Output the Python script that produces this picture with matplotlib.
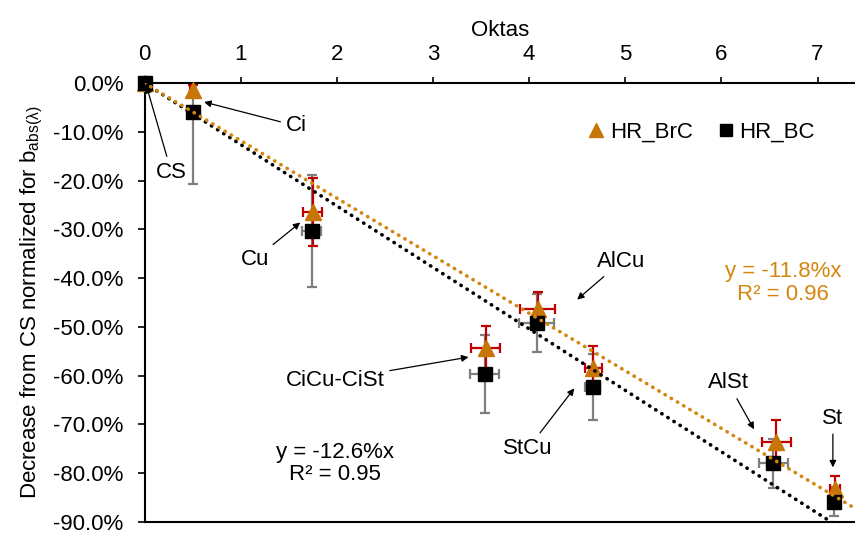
import matplotlib
matplotlib.use("Agg")
import matplotlib.pyplot as plt
from matplotlib.lines import Line2D
from matplotlib.ticker import FuncFormatter
import numpy as np

plt.rcParams['font.family'] = ['Liberation Sans', 'DejaVu Sans']

# ---- data ----
labels = ["CS", "Ci", "Cu", "CiCu-CiSt", "AlCu", "StCu", "AlSt", "St"]

x_brc = [0.00, 0.50, 1.75, 3.55, 4.09, 4.67, 6.57, 7.18]
y_brc = [0.0, -1.4, -26.4, -54.4, -46.3, -58.5, -73.5, -83.2]
yerr_brc = [0.0, 1.0, 7.0, 4.5, 3.5, 4.5, 4.4, 2.6]
xerr_brc = [0.0, 0.03, 0.10, 0.15, 0.18, 0.09, 0.15, 0.05]

x_bc = [0.00, 0.50, 1.74, 3.54, 4.08, 4.66, 6.54, 7.17]
y_bc = [0.0, -6.0, -30.4, -59.6, -49.2, -62.3, -78.0, -85.8]
yerr_bc = [0.0, 14.8, 11.5, 8.0, 6.0, 6.8, 5.0, 3.0]
xerr_bc = [0.0, 0.02, 0.10, 0.15, 0.18, 0.08, 0.15, 0.05]

slope_brc = -11.8
slope_bc = -12.6
r2_brc = 0.96
r2_bc = 0.95

x_ticks = [0, 1, 2, 3, 4, 5, 6, 7]
y_ticks = [0, -10, -20, -30, -40, -50, -60, -70, -80, -90]

# annotation positions (text, tip)
ann_text = [(0.28, -18.3), (1.58, -8.8), (1.145, -36.2), (1.98, -60.9),
            (4.96, -36.6), (3.99, -74.9), (6.07, -61.5), (7.16, -68.7)]
ann_tip = [(0.02, -0.6), (0.62, -3.9), (1.62, -28.6), (3.37, -56.2),
           (4.50, -44.4), (4.47, -62.6), (6.34, -71.0), (7.16, -78.8)]

ORANGE = '#C87508'
RED = '#C00000'
GRAY = '#7F7F7F'
FS = 16

fig = plt.figure(figsize=(8.55, 5.37), dpi=100)
ax = fig.add_axes([144.5/855, 1-522/537, 710.5/855, (522-83)/537])

xmax = 7.39
ax.set_xlim(0, xmax)
ax.set_ylim(-90, 0)

# error bars
eb1 = ax.errorbar(x_bc, y_bc, yerr=yerr_bc, xerr=xerr_bc, fmt='none', ecolor=GRAY,
                  elinewidth=1.6, capsize=3.5, capthick=1.6, zorder=2)
eb2 = ax.errorbar(x_brc, y_brc, yerr=yerr_brc, xerr=xerr_brc, fmt='none', ecolor=RED,
                  elinewidth=1.6, capsize=3.5, capthick=1.6, zorder=2)

ax.plot(x_brc, y_brc, '^', color=ORANGE, markersize=11, linestyle='none', zorder=3,
        clip_on=False)
ax.plot(x_bc, y_bc, 's', color='black', markersize=10.5, linestyle='none', zorder=4,
        clip_on=False)

# trendlines
xt = np.array([0, xmax])
ax.plot(xt, slope_bc * xt, color='black', lw=2.6, linestyle=(0, (0.1, 1.9)),
        dash_capstyle='round', zorder=5)
ax.plot(xt, slope_brc * xt, color='#D4860E', lw=2.6, linestyle=(0, (0.1, 1.9)),
        dash_capstyle='round', zorder=5)

# axes styling
ax.spines['right'].set_visible(False)
for s in ['left', 'top', 'bottom']:
    ax.spines[s].set_linewidth(1.5)
ax.xaxis.tick_top()
ax.xaxis.set_label_position('top')
ax.set_xticks(x_ticks)
ax.set_yticks(y_ticks)
ax.yaxis.set_major_formatter(FuncFormatter(lambda v, p: f"{abs(v):.1f}%" if v == 0 else f"{v:.1f}%"))
ax.tick_params(axis='y', direction='out', length=5, width=1.2, labelsize=FS, pad=10)
ax.tick_params(axis='x', direction='out', length=4, width=1.2, labelsize=FS, pad=9)
ax.set_xlabel("Oktas", fontsize=FS, labelpad=6)
ax.set_ylabel(r"Decrease from CS normalized for b$_{\mathregular{abs(λ)}}$", fontsize=FS, labelpad=6)

# annotations
for lab, t, tip in zip(labels, ann_text, ann_tip):
    ax.annotate(lab, xy=tip, xytext=t, ha='center', va='center', fontsize=FS,
                arrowprops=dict(arrowstyle='-|>', color='black', lw=0.9,
                                mutation_scale=10, shrinkA=2, shrinkB=0),
                zorder=6)

ax.text(1.98, -78.0, f"y = {slope_bc:.1f}%x\nR² = {r2_bc:.2f}", ha='center', va='center',
        fontsize=FS, color='black', linespacing=1.1)
ax.text(6.64, -41.0, f"y = {slope_brc:.1f}%x\nR² = {r2_brc:.2f}", ha='center', va='center',
        fontsize=FS, color='#D4860E', linespacing=1.1)

handles = [Line2D([], [], marker='^', color=ORANGE, linestyle='none', markersize=10),
           Line2D([], [], marker='s', color='black', linestyle='none', markersize=9)]
ax.legend(handles, ['HR_BrC', 'HR_BC'], loc='center', bbox_to_anchor=(0.782, 0.888),
          ncol=2, frameon=False, fontsize=FS, handletextpad=0.1, columnspacing=1.0,
          handlelength=1.0)

fig.savefig('out.png', dpi=100)
